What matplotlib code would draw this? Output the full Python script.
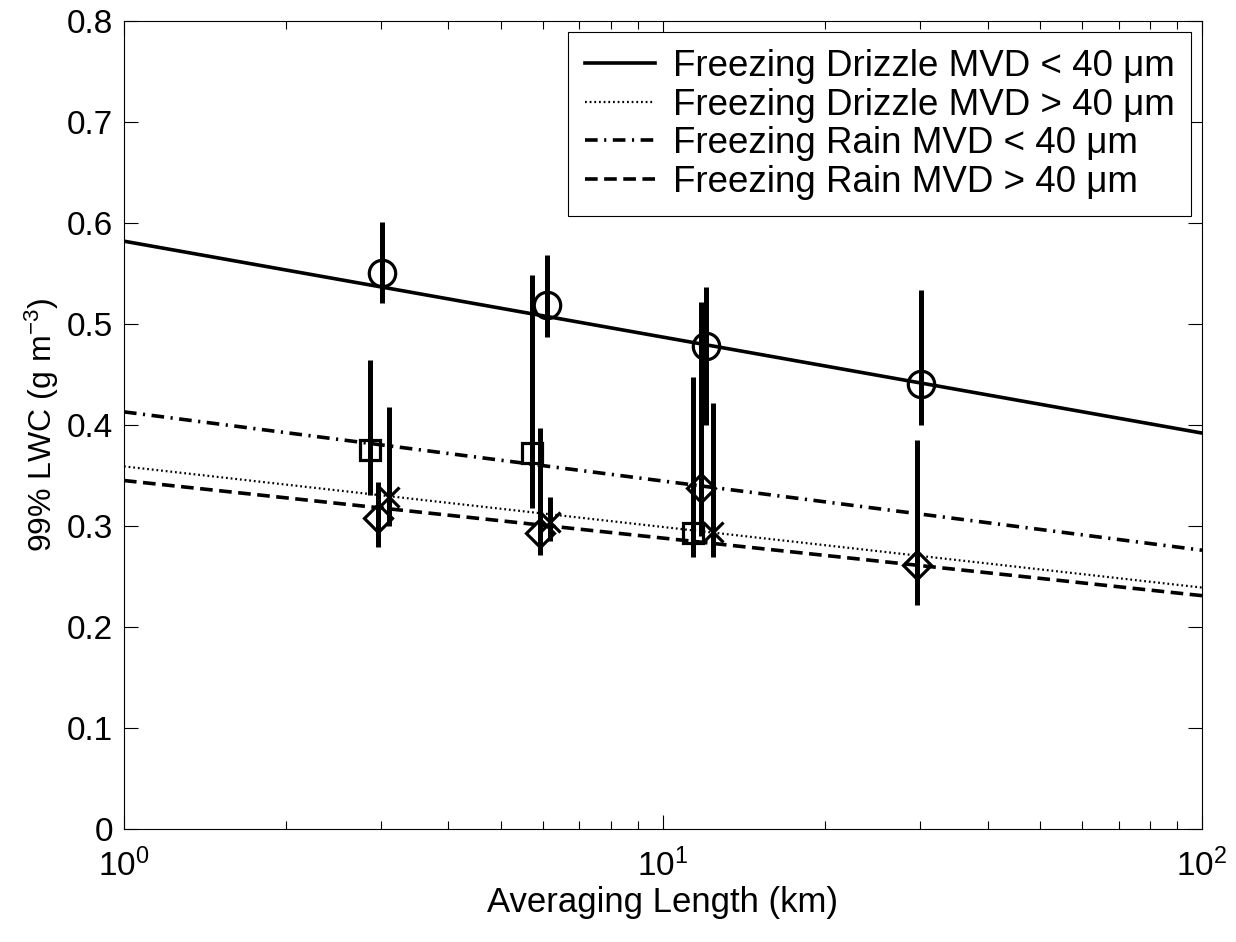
import matplotlib
matplotlib.use("Agg")
import matplotlib.pyplot as plt

plt.rcParams.update({
    "font.family": ["Liberation Sans", "DejaVu Sans"],
    "font.size": 25,
    "mathtext.fontset": "custom",
    "mathtext.rm": "Liberation Sans",
    "mathtext.it": "Liberation Sans:italic",
})

# fitted lines (end points)
fit_x = [1, 100]
fd_small_fit = [0.582, 0.392]
fd_large_fit = [0.359, 0.239]
fr_small_fit = [0.413, 0.276]
fr_large_fit = [0.345, 0.231]

labels = [
    "Freezing Drizzle MVD < 40 \u03bcm",
    "Freezing Drizzle MVD > 40 \u03bcm",
    "Freezing Rain MVD < 40 \u03bcm",
    "Freezing Rain MVD > 40 \u03bcm",
]

# data points with error bars
circ_x = [3.01, 6.09, 12.02, 30.05]
circ_y = [0.550, 0.519, 0.478, 0.441]
circ_lo = [0.521, 0.487, 0.400, 0.400]
circ_hi = [0.601, 0.568, 0.537, 0.534]

sq_x = [2.86, 5.71, 11.35]
sq_y = [0.375, 0.372, 0.293]
sq_lo = [0.331, 0.318, 0.269]
sq_hi = [0.464, 0.549, 0.448]

xm_x = [3.10, 6.17, 12.38]
xm_y = [0.329, 0.304, 0.294]
xm_lo = [0.300, 0.285, 0.269]
xm_hi = [0.418, 0.329, 0.422]

dia_x = [2.96, 5.92, 11.75, 29.6]
dia_y = [0.308, 0.293, 0.338, 0.261]
dia_lo = [0.279, 0.271, 0.290, 0.222]
dia_hi = [0.344, 0.397, 0.522, 0.385]


def draw_points(ax, x, y, lo, hi, marker, ms):
    yerr = [[v - l for v, l in zip(y, lo)], [h - v for v, h in zip(y, hi)]]
    ax.errorbar(x, y, yerr=yerr, fmt=marker, color="black", mfc="none",
                mec="black", ms=ms, mew=2.3, elinewidth=3.6, capsize=0,
                zorder=3)


fig = plt.figure(figsize=(12.36, 9.42), dpi=100)
ax = fig.add_axes([0.1003, 0.12, 0.8722, 0.8577])

ax.plot(fit_x, fd_small_fit, "-", color="black", lw=2.6, label=labels[0])
ax.plot(fit_x, fd_large_fit, color="black", lw=1.6,
        linestyle=(0, (0.8, 1.3)), label=labels[1])
ax.plot(fit_x, fr_small_fit, color="black", lw=2.6,
        linestyle=(0, (3.5, 1.8, 0.6, 1.8)), label=labels[2])
ax.plot(fit_x, fr_large_fit, color="black", lw=2.6,
        linestyle=(0, (3.5, 1.8)), label=labels[3])

draw_points(ax, circ_x, circ_y, circ_lo, circ_hi, "o", 19)
draw_points(ax, sq_x, sq_y, sq_lo, sq_hi, "s", 15)
draw_points(ax, xm_x, xm_y, xm_lo, xm_hi, "x", 15)
draw_points(ax, dia_x, dia_y, dia_lo, dia_hi, "D", 14)

ax.set_xscale("log")
ax.set_xlim(1, 100)
ax.set_ylim(0, 0.8)
ax.set_yticks([0, 0.1, 0.2, 0.3, 0.4, 0.5, 0.6, 0.7, 0.8])
ax.set_yticklabels(["0", "0.1", "0.2", "0.3", "0.4", "0.5", "0.6", "0.7", "0.8"])
ax.tick_params(which="both", direction="in", top=True, right=True,
               width=0.8, labelsize=24)
ax.tick_params(which="major", length=10, pad=8)
ax.tick_params(which="minor", length=6)
ax.tick_params(axis="x", which="major", pad=14)
for sp in ax.spines.values():
    sp.set_linewidth(0.8)

ax.set_xlabel("Averaging Length (km)", fontsize=25, labelpad=2)
ax.set_ylabel("99% LWC (g m$^{-3}$)", fontsize=23, labelpad=4)

leg = ax.legend(loc="upper right", bbox_to_anchor=(0.99, 0.986),
                borderaxespad=0, fancybox=False, framealpha=1,
                edgecolor="black", handlelength=1.9, handletextpad=0.5,
                labelspacing=0.1, borderpad=0.45, fontsize=26.5)
leg.get_frame().set_linewidth(0.8)

fig.savefig("out.png", dpi=100)
